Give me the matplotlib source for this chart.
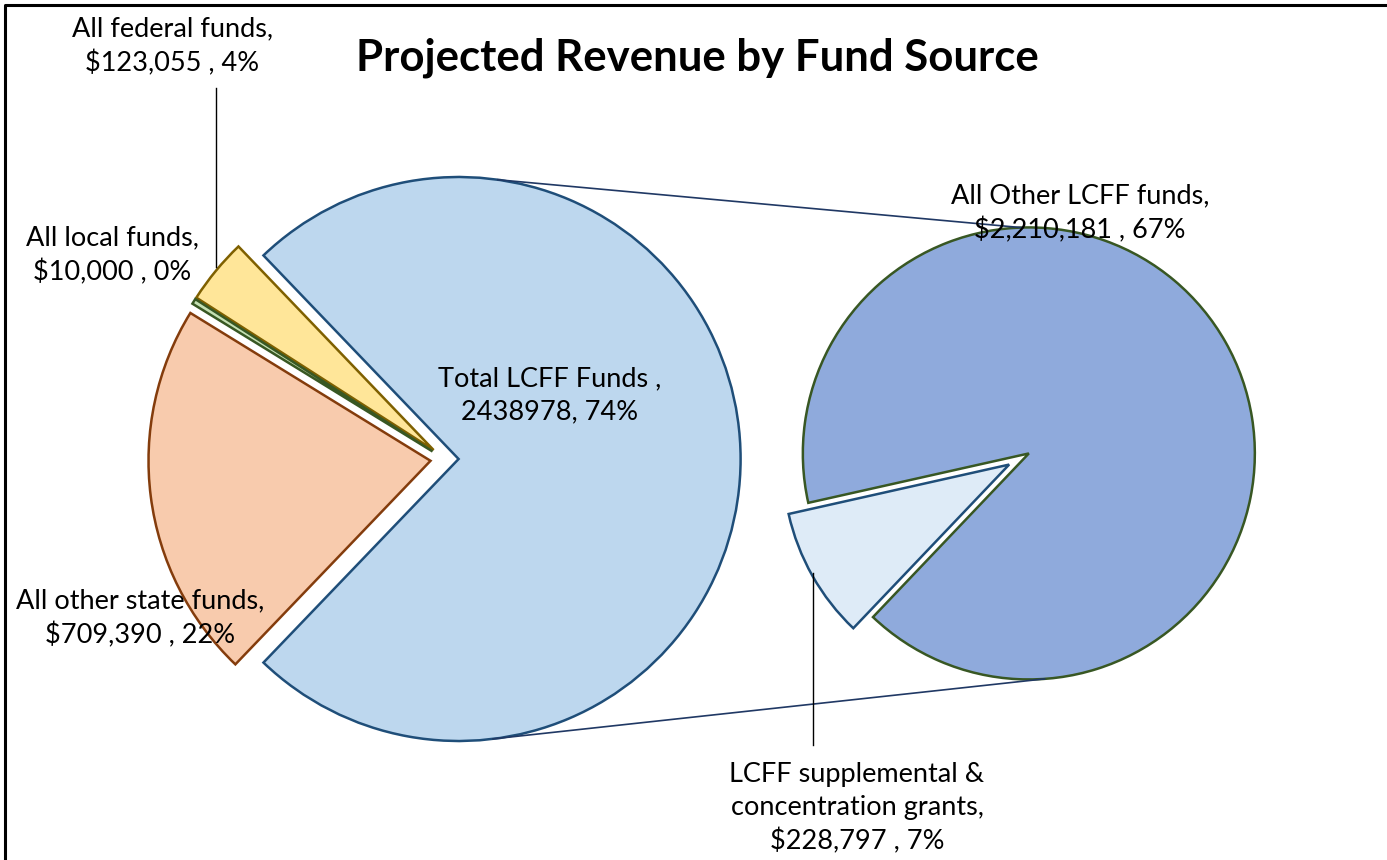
import matplotlib.pyplot as plt
import numpy as np

# fund sources (first pie)
main_names = ["Total LCFF Funds", "All federal funds", "All local funds", "All other state funds"]
main_values = [2438978, 123055, 10000, 709390]
main_colors = ["#BDD7EE", "#FFE699", "#C5E0B4", "#F8CBAD"]
main_edges = ["#1F4E79", "#7F6000", "#385723", "#843C0C"]

# split of LCFF (second pie)
lcff_names = ["All Other LCFF funds", "LCFF supplemental &\nconcentration grants"]
lcff_values = [2210181, 228797]
lcff_colors = ["#8FAADC", "#DEEBF7"]
lcff_edges = ["#385723", "#1F4E79"]

plt.rcParams['font.family'] = ['Lato', 'DejaVu Sans']

W, H = 1387, 860
fig = plt.figure(figsize=(W / 100, H / 100), dpi=100)
ax = fig.add_axes([0, 0, 1, 1])

total = sum(main_values)
lcff_frac = main_values[0] / total

# left pie, LCFF slice centred on the right (explode is in data units)
r1, r2 = 282, 226
w1, _ = ax.pie(main_values, center=(444.5, H - 459), radius=r1,
               startangle=-lcff_frac * 180, counterclock=True,
               explode=[0.05 * r1] * 4, colors=main_colors,
               wedgeprops=dict(linewidth=1.8), frame=True)
for w, ec in zip(w1, main_edges):
    w.set_edgecolor(ec)

# right pie
w2, _ = ax.pie(lcff_values, center=(1019, H - 459), radius=r2,
               startangle=226.4, counterclock=True,
               explode=[0.05 * r2] * 2, colors=lcff_colors,
               wedgeprops=dict(linewidth=1.8), frame=True)
for w, ec in zip(w2, lcff_edges):
    w.set_edgecolor(ec)
ax.set_xlim(0, W)
ax.set_ylim(0, H)
ax.set_aspect('equal')
ax.axis('off')

# connector lines between the pies
def arc_pt(w, ang):
    cx, cy = w.center
    return cx + w.r * np.cos(np.radians(ang)), cy + w.r * np.sin(np.radians(ang))

for a1, a2 in [(82, 92), (-83, -86)]:
    p1 = arc_pt(w1[0], a1)
    p2 = arc_pt(w2[0], a2)
    ax.plot([p1[0], p2[0]], [p1[1], p2[1]], color="#203864", lw=1.2, zorder=3)

# labels
pct = [round(v / total * 100) for v in main_values]
txt = dict(fontsize=19.5, ha='center', va='center', color='black', zorder=5, linespacing=1.4)
ax.text(550, H - 395, f"{main_names[0]} ,\n{main_values[0]}, {pct[0]}%", **txt)
ax.text(172, H - 46, f"{main_names[1]},\n${main_values[1]:,} , {pct[1]}%", **txt)
ax.text(112, H - 255, f"{main_names[2]},\n${main_values[2]:,} , {pct[2]}%", **txt)
ax.text(140, H - 618, f"{main_names[3]},\n${main_values[3]:,} , {pct[3]}%", **txt)

lp = [round(v / total * 100) for v in lcff_values]
ax.text(1080, H - 213, f"{lcff_names[0]},\n${lcff_values[0]:,} , {lp[0]}%", **txt)
ax.text(857, H - 808, f"{lcff_names[1]},\n${lcff_values[1]:,} , {lp[1]}%", **txt)

# leader lines
ax.plot([216, 216], [H - 88, H - 267], color='black', lw=1, zorder=4)
ax.plot([813, 813], [H - 573, H - 745], color='black', lw=1, zorder=4)

ax.text(697, H - 58, "Projected Revenue by Fund Source", fontsize=31.5,
        fontweight='bold', ha='center', va='center')

# chart frame (right and bottom edges fall outside the image)
ax.plot([5, 5, W + 10], [-10, H - 5, H - 5], color='black', lw=2.2, clip_on=False)

fig.savefig("out.png", dpi=100)
